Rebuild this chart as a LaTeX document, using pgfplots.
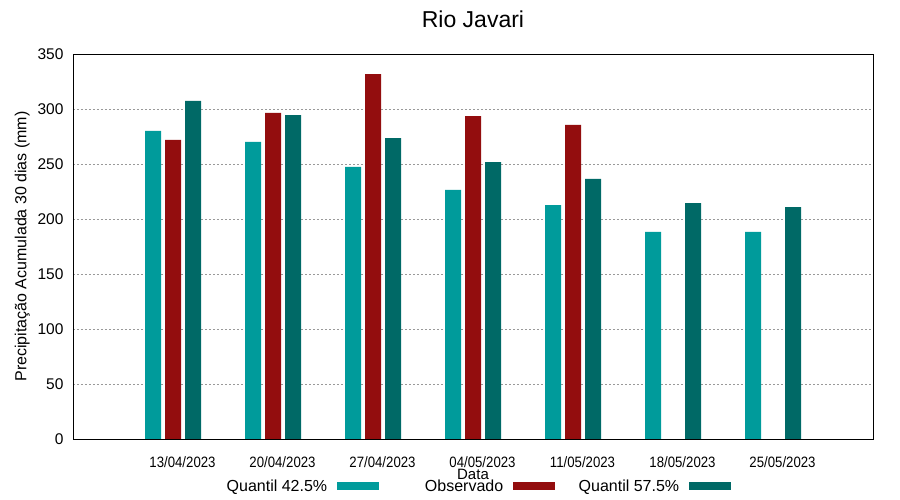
\documentclass[border=0pt]{standalone}
\usepackage{pgfplots}
\pgfplotsset{compat=1.18}
\usepackage{fontspec}
\setmainfont{Liberation Sans}
\newfontfamily\narrowfont[FakeStretch=0.88]{Liberation Sans}
\definecolor{qa}{RGB}{0,155,155}
\definecolor{obs}{RGB}{147,13,14}
\definecolor{qb}{RGB}{0,105,102}
\begin{document}
\begin{tikzpicture}
\useasboundingbox (0pt,0pt) rectangle (900pt,500pt);
\begin{axis}[
  at={(73pt,61pt)}, anchor=south west,
  scale only axis, width=800pt, height=385pt,
  xmin=-1, xmax=7, ymin=0, ymax=350,
  ytick={0,50,...,350},
  xtick={0,...,6},
  xticklabels={13/04/2023,20/04/2023,27/04/2023,04/05/2023,11/05/2023,18/05/2023,25/05/2023},
  xticklabel style={xshift=9.5pt, yshift=-14.5pt, font=\narrowfont\fontsize{15}{18}\selectfont},
  yticklabel style={xshift=-6pt, font=\fontsize{15.5}{18}\selectfont},
  /pgf/number format/assume math mode=true,
  major tick length=0pt,
  ymajorgrids, grid style={gray!80, dash pattern=on 2pt off 2pt, line width=0.6pt},
  axis line style={line width=0.8pt},
  ybar=4pt, bar width=16pt,
  title={Rio Javari},
  title style={font=\fontsize{23}{27}\selectfont, at={(0.5,1)}, yshift=17pt},
  xlabel={Data},
  xlabel style={font=\fontsize{15}{18}\selectfont, at={(axis description cs:0.5,-0.0909)}, anchor=center},
  ylabel={Precipitação Acumulada 30 dias (mm)},
  ylabel style={font=\fontsize{16}{19}\selectfont, yshift=1pt},
  legend columns=3,
  legend plot pos=right,
  legend image code/.code={\fill[#1, draw=none] (0pt,-4pt) rectangle (42pt,4pt);},
  legend style={draw=none, fill=none, at={(0.494,-0.122)}, anchor=center,
    font=\fontsize{16}{19}\selectfont,
    /tikz/every even column/.style={column sep=2pt},
    /tikz/every odd column/.style={column sep=8pt}},
]
\addplot[fill=qa, draw=none] coordinates {(0,280) (1,270) (2,247.3) (3,226.4) (4,212.7) (5,188.2) (6,188.2)};
\addplot[fill=obs, draw=none] coordinates {(0,272) (1,296.4) (2,331.8) (3,293.6) (4,285.5)};
\addplot[fill=qb, draw=none] coordinates {(0,307.3) (1,294.5) (2,273.6) (3,251.8) (4,236.4) (5,214.5) (6,210.9)};
\legend{\makebox[120pt][r]{Quantil 42.5\%}, \makebox[120pt][r]{Observado}, \makebox[120pt][r]{Quantil 57.5\%}}
\end{axis}
\end{tikzpicture}
\end{document}
